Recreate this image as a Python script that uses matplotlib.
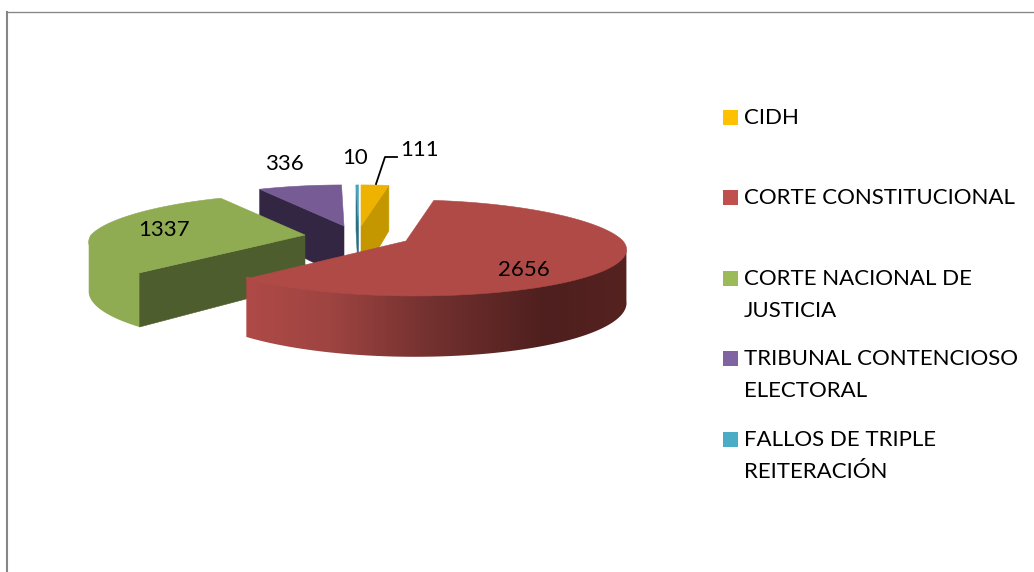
import numpy as np
import matplotlib
matplotlib.use("Agg")
import matplotlib.pyplot as plt
from matplotlib.colors import to_rgb
from matplotlib.patches import Polygon, Rectangle

# ---- data ----
categories = ["CIDH", "CORTE CONSTITUCIONAL", "CORTE NACIONAL DE\nJUSTICIA",
              "TRIBUNAL CONTENCIOSO\nELECTORAL", "FALLOS DE TRIPLE\nREITERACIÓN"]
values = [111, 2656, 1337, 336, 10]

# ---- style ----
legend_colors = ["#FFC000", "#C0504D", "#9BBB59", "#8064A2", "#4BACC6"]
top_colors = ["#EEB200", "#AF4A47", "#8FAC52", "#775B94", "#4BA3BC"]
cut_colors = ["#C49700", "#5A2523", "#4E5D2D", "#332642", "#2A6E84"]
rim_stops = [
    [(0, "#C49700"), (1034, "#C49700")],
    [(246, "#AF4A47"), (330, "#9E4441"), (430, "#73312F"), (546, "#4E1F1E"), (627, "#552220")],
    [(85, "#91AD54"), (140, "#8FAC52"), (305, "#8FAC52")],
    [(0, "#332642"), (1034, "#332642")],
    [(0, "#2A6E84"), (1034, "#2A6E84")],
]
apexes = [(361, 226), (406, 241), (305, 235), (344, 226), (358.5, 226)]
heights = [52.0, 52.0, 48.5, 52.0, 52.0]
draw_order = [0, 4, 3, 2, 1]
A_RIGHT, A_LEFT, B, P = 217.0, 214.0, 47.0, 0.145
VP_X = 305.0
FONT = "Lato"
FS = 16.0

fig = plt.figure(figsize=(10.34, 5.72), dpi=100, facecolor="white")
ax = fig.add_axes([0, 0, 1, 1])


def project(theta, apex, drop=0.0):
    """Clockwise angle from 12 o'clock on the pie plane to screen pixels."""
    x, y = np.sin(theta), -np.cos(theta)
    k = 1.0 / (1.0 - P * y)
    a = np.where(x > 0, A_RIGHT, A_LEFT) * (1 + 0.06 * np.minimum(y, 0))
    shift = (apex[0] - VP_X) * 0.5 * np.maximum(k - 1, 0)
    return apex[0] + a * x * k + shift, apex[1] + B * y * k + drop * k


def rim_gradient(stops, x0, x1, n=256):
    xs = [s[0] for s in stops]
    cs = np.array([to_rgb(s[1]) for s in stops])
    grid = np.linspace(x0, x1, n)
    return np.stack([np.interp(grid, xs, cs[:, i]) for i in range(3)], axis=1)[None, :, :]


edges = np.radians(np.concatenate([[0], np.cumsum(values)]) / np.sum(values) * 360.0)

for i in draw_order:
    t0, t1 = edges[i], edges[i + 1]
    apex = apexes[i]
    H = heights[i]
    z = 2 + draw_order.index(i) * 10
    th = np.linspace(t0, t1, max(6, int(np.degrees(t1 - t0) * 2)))
    # outer rim: only the part that faces the viewer, shaded left to right
    vis = th[-1 - np.cos(th) / P >= 0]
    if vis.size > 1:
        xt, yt = project(vis, apex, -2.0)
        xb, yb = project(vis, apex, H)
        poly = Polygon(np.column_stack([np.r_[xt, xb[::-1]], np.r_[yt, yb[::-1]]]), closed=True,
                       facecolor="none", edgecolor="none", transform=ax.transData)
        ax.add_patch(poly)
        xlo, xhi = min(xt.min(), xb.min()) - 1, max(xt.max(), xb.max()) + 1
        im = ax.imshow(rim_gradient(rim_stops[i], xlo, xhi), aspect="auto", interpolation="bilinear",
                       extent=[xlo, xhi, max(yt.max(), yb.max()) + 1, min(yt.min(), yb.min()) - 1],
                       zorder=z)
        im.set_clip_path(poly)
    # radial cut faces that face the viewer
    for t, s in ((t0, -1.0), (t1, 1.0)):
        if s * np.sin(t) > 1e-6:
            xr, yr = project(t, apex)
            xb1, yb1 = project(t, apex, H)
            ax.add_patch(Polygon([apex, (xr, yr), (xb1, yb1), (apex[0], apex[1] + H)], closed=True,
                                 facecolor=cut_colors[i], edgecolor=cut_colors[i],
                                 lw=0.4, zorder=z + 1))
    # top face
    xs, ys = project(th, apex)
    ax.add_patch(Polygon(np.column_stack([np.r_[apex[0], xs], np.r_[apex[1], ys]]), closed=True,
                         facecolor=top_colors[i], edgecolor=top_colors[i], lw=0.4, zorder=z + 2))

# data labels
label_pos = [(420, 150), (524, 270), (164, 230), (284, 164), (355, 158)]
for v, (x, y) in zip(values, label_pos):
    ax.text(x, y, str(v), ha="center", va="center", family=FONT, fontsize=FS, color="black", zorder=100)
ax.plot([376, 385, 397], [184, 157, 157], color="black", lw=1.3, zorder=100)

# legend
swatch_y = [117.5, 197.5, 278.5, 358.5, 439.5]
line_gap = 32
for name, col, y in zip(categories, legend_colors, swatch_y):
    ax.add_patch(Rectangle((723, y - 7.5), 15, 15, facecolor=col, edgecolor="none", zorder=100))
    for j, line in enumerate(name.split("\n")):
        ax.text(744, y + 0.5 + j * line_gap, line, ha="left", va="center", family=FONT,
                fontsize=FS, color="black", zorder=100)

# outer frame
ax.plot([1034, 7], [11.7, 11.7], color="#868686", lw=0.95, zorder=100, solid_capstyle="butt")
ax.plot([7, 7], [11.2, 572], color="#868686", lw=1.5, zorder=100, solid_capstyle="butt")

ax.set_xlim(0, 1034)
ax.set_ylim(572, 0)
ax.axis("off")

fig.savefig("out.png", dpi=100, facecolor="white")
